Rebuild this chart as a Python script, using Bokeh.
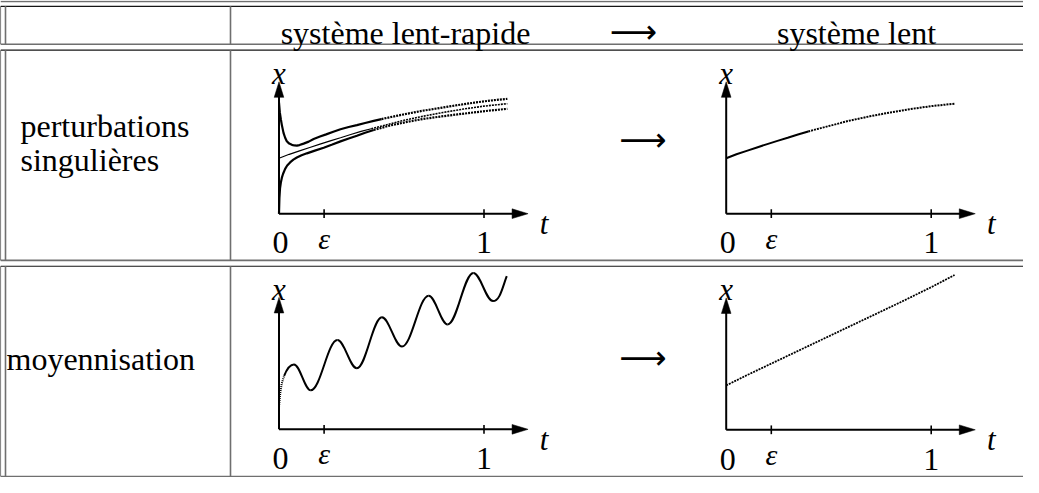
import numpy as np
from bokeh.plotting import figure
from bokeh.models import Range1d
from bokeh.core.properties import value
from bokeh.embed import file_html
from bokeh.resources import INLINE

# ---------------- texts ----------------
header_left = "système lent-rapide"
header_right = "système lent"
arrow_sym = "\u27f6"
row1_label = ["perturbations", "singulières"]
row2_label = ["moyennisation"]
tick_t = [0.0, 0.22, 1.0]
tick_labels = ["0", "\u03b5", "1"]
label_x = "x"
label_t = "t"

# ---------------- data (t, x) ----------------
# singular perturbation: fast solution starting above the slow manifold
upper_t = [0.0, 0.004, 0.009, 0.014, 0.022, 0.030, 0.038, 0.050, 0.063, 0.075, 0.087,
           0.10, 0.12, 0.145, 0.169, 0.20, 0.23, 0.265, 0.30, 0.34, 0.38, 0.42, 0.462,
           0.50, 0.54, 0.58, 0.625, 0.70, 0.788, 0.87, 0.95, 1.03, 1.114]
upper_x = [1.14, 1.04, 0.97, 0.91, 0.83, 0.78, 0.745, 0.72, 0.707, 0.701, 0.700,
           0.705, 0.72, 0.74, 0.767, 0.792, 0.815, 0.842, 0.867, 0.89, 0.91, 0.932, 0.953,
           0.972, 0.99, 1.008, 1.027, 1.057, 1.087, 1.115, 1.14, 1.162, 1.18]
# slow manifold (thin line) / slow system solution
slow_t = [0.0, 0.05, 0.10, 0.15, 0.20, 0.25, 0.30, 0.35, 0.40, 0.45, 0.50, 0.60, 0.70,
          0.80, 0.90, 1.00, 1.114]
slow_x = [0.57, 0.61, 0.645, 0.68, 0.715, 0.748, 0.78, 0.813, 0.845, 0.873, 0.90, 0.955,
          1.0, 1.04, 1.075, 1.105, 1.13]
# fast solution starting below (from the origin)
lower_t = [0.0, 0.002, 0.005, 0.009, 0.014, 0.02, 0.03, 0.04, 0.054, 0.07, 0.087,
           0.11, 0.136, 0.175, 0.218, 0.26, 0.30, 0.34, 0.38, 0.42, 0.462, 0.54, 0.625,
           0.70, 0.788, 0.87, 0.95, 1.03, 1.114]
lower_x = [0.0, 0.16, 0.26, 0.32, 0.37, 0.41, 0.46, 0.495, 0.527, 0.555, 0.577,
           0.60, 0.62, 0.648, 0.677, 0.71, 0.743, 0.772, 0.80, 0.832, 0.86, 0.905, 0.943,
           0.972, 0.998, 1.02, 1.04, 1.06, 1.077]
# averaging: oscillating solution — initial rise, then its extrema, then its end
osc_start_t = [0.0, 0.006, 0.013, 0.025]
osc_start_x = [0.23, 0.37, 0.467, 0.55]
osc_start_slope = 5.3
osc_ext_t = [0.073, 0.155, 0.285, 0.38, 0.502, 0.60, 0.73, 0.823, 0.948, 1.044]
osc_ext_x = [0.667, 0.40, 0.917, 0.627, 1.15, 0.85, 1.373, 1.077, 1.607, 1.317]
osc_end_t = 1.111
osc_end_x = 1.573
osc_end_slope = 5.5
# averaged system
avg_t = [0.0, 0.10, 0.25, 0.40, 0.55, 0.70, 0.85, 1.00, 1.114]
avg_x = [0.456, 0.56, 0.71, 0.86, 1.01, 1.16, 1.31, 1.465, 1.59]

# ---------------- layout (reference pixel space) ----------------
SX, SY = 205.0, 100.0          # px per unit of t and of x
T_END, X_END = 1.215, 1.355    # axis extents
panels = {"tl": (285.5, 221.0), "tr": (732.7, 221.0),
          "bl": (285.5, 442.5), "br": (732.7, 443.0)}
DOT = "2 1"

p = figure(width=1023, height=477, x_range=Range1d(7, 1030), y_range=Range1d(492, 2),
           output_backend="svg", toolbar_location=None, min_border=0,
           x_axis_location=None, y_axis_location=None, outline_line_color=None,
           background_fill_color="white", border_fill_color="white")
p.grid.grid_line_color = None

# ---- table rules ----
GRAY, DARK = "#6f6f6f", "#151515"
hl = [(3, GRAY), (8, DARK), (47, GRAY), (53, DARK), (269, GRAY), (275, DARK), (491, GRAY)]
for y, c in hl:
    p.segment(x0=[7], y0=[y], x1=[1040], y1=[y], line_color=c,
              line_width=1.6 if c == GRAY else 1.1)
for (y0, y1) in [(8, 47), (53, 269), (275, 491)]:
    p.segment(x0=[7], y0=[y0], x1=[7], y1=[y1], line_color=DARK, line_width=1.1)
    p.segment(x0=[12], y0=[y0], x1=[12], y1=[y1], line_color=GRAY, line_width=1.6)
    p.segment(x0=[237], y0=[y0], x1=[237], y1=[y1], line_color=GRAY, line_width=1.6)

SERIF = value("Liberation Serif")
# header
p.text(x=[412, 863], y=[35, 35], text=[header_left, header_right], text_font=SERIF,
       text_font_size=value("32px"), text_align="center", text_baseline="alphabetic",
       text_color="black")
p.text(x=[640, 649.5, 649.5], y=[34, 145, 369], text=[arrow_sym] * 3,
       text_font=value("DejaVu Sans"), text_font_size=value("33px"),
       text_align="center", text_baseline="middle", text_color="black")
# row labels
p.text(x=[27, 27, 13], y=[131, 166, 370], text=row1_label + row2_label, text_font=SERIF,
       text_font_size=value("32px"), text_align="left", text_baseline="alphabetic",
       text_color="black")


def X(o, t):
    return o[0] + np.asarray(t, dtype=float) * SX


def Y(o, x):
    return o[1] - np.asarray(x, dtype=float) * SY


def draw_axes(o):
    p.line(x=[o[0], o[0]], y=[o[1], Y(o, X_END) + 14], line_color="black", line_width=2)
    p.line(x=[o[0], X(o, T_END) - 14], y=[o[1], o[1]], line_color="black", line_width=2)
    tipx, tipy = o[0], float(Y(o, X_END))
    p.patch(x=[tipx, tipx - 4.8, tipx + 4.8], y=[tipy, tipy + 16, tipy + 16],
            color="black", line_width=0.5)
    tx, ty = float(X(o, T_END)), o[1]
    p.patch(x=[tx, tx - 16, tx - 16], y=[ty, ty - 5, ty + 5], color="black", line_width=0.5)
    for tv in tick_t[1:]:
        xx = float(X(o, tv))
        p.segment(x0=[xx], y0=[o[1] - 4.5], x1=[xx], y1=[o[1] + 4.5],
                  line_color="black", line_width=1.6)
    p.text(x=[o[0] + 1.5, float(X(o, tick_t[2]))], y=[o[1] + 30, o[1] + 30],
           text=[tick_labels[0], tick_labels[2]], text_font=SERIF,
           text_font_size=value("32px"), text_align="center",
           text_baseline="alphabetic", text_color="black")
    p.text(x=[float(X(o, tick_t[1]))], y=[o[1] + 25], text=[tick_labels[1]],
           text_font=SERIF, text_font_style="italic", text_font_size=value("30px"),
           text_align="center", text_baseline="alphabetic", text_color="black")
    p.text(x=[o[0]], y=[o[1] - 144], text=[label_x], text_font=SERIF,
           text_font_style="italic", text_font_size=value("31px"),
           text_align="center", text_baseline="alphabetic", text_color="black")
    p.text(x=[o[0] + 265], y=[o[1] + 10], text=[label_t], text_font=SERIF,
           text_font_style="italic", text_font_size=value("31px"),
           text_align="center", text_baseline="alphabetic", text_color="black")


def draw_curve(o, t, x, width, split=None, dot_width=None, all_dotted=False):
    t = np.asarray(t, dtype=float)
    x = np.asarray(x, dtype=float)
    dw = dot_width if dot_width else width
    if all_dotted:
        p.line(x=X(o, t), y=Y(o, x), line_color="black", line_width=dw, line_dash=DOT)
        return
    a = t <= split
    b = t >= split
    p.line(x=X(o, t[a]), y=Y(o, x[a]), line_color="black", line_width=width)
    p.line(x=X(o, t[b]), y=Y(o, x[b]), line_color="black", line_width=dw, line_dash=DOT)


def draw_oscillation(o, width):
    # dotted initial rise
    p.line(x=X(o, osc_start_t), y=Y(o, osc_start_x), line_color="black",
           line_width=width, line_dash="1 1")
    t0, x0 = osc_start_t[-1], osc_start_x[-1]
    t1, x1 = osc_ext_t[0], osc_ext_x[0]
    d = t1 - t0
    bx0 = [t0]; by0 = [x0]; bx1 = [t1]; by1 = [x1]
    cx0 = [t0 + d / 3]; cy0 = [x0 + osc_start_slope * d / 3]
    cx1 = [t1 - 0.4 * d]; cy1 = [x1]
    # half waves between extrema (horizontal tangents)
    for i in range(len(osc_ext_t) - 1):
        ta, xa, tb, xb = osc_ext_t[i], osc_ext_x[i], osc_ext_t[i + 1], osc_ext_x[i + 1]
        d = tb - ta
        bx0.append(ta); by0.append(xa); bx1.append(tb); by1.append(xb)
        cx0.append(ta + 0.363 * d); cy0.append(xa)
        cx1.append(tb - 0.363 * d); cy1.append(xb)
    # last partial rise
    ta, xa = osc_ext_t[-1], osc_ext_x[-1]
    d = osc_end_t - ta
    bx0.append(ta); by0.append(xa); bx1.append(osc_end_t); by1.append(osc_end_x)
    cx0.append(ta + 0.5 * d); cy0.append(xa)
    cx1.append(osc_end_t - d / 3); cy1.append(osc_end_x - osc_end_slope * d / 3)
    p.bezier(x0=X(o, bx0), y0=Y(o, by0), x1=X(o, bx1), y1=Y(o, by1),
             cx0=X(o, cx0), cy0=Y(o, cy0), cx1=X(o, cx1), cy1=Y(o, cy1),
             line_color="black", line_width=width)


for k in panels:
    draw_axes(panels[k])

draw_curve(panels["tl"], upper_t, upper_x, 2.2, split=0.50)
draw_curve(panels["tl"], slow_t, slow_x, 1.2, split=0.45, dot_width=1.6)
draw_curve(panels["tl"], lower_t, lower_x, 2.2, split=0.462)
draw_curve(panels["tr"], slow_t, slow_x, 2.0, split=0.40)
draw_oscillation(panels["bl"], 2.0)
draw_curve(panels["br"], avg_t, avg_x, 1.8, all_dotted=True)

open("out.html", "w").write(file_html(p, INLINE))
